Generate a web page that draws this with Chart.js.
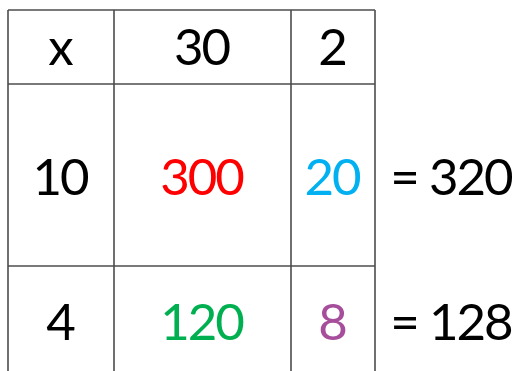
<!DOCTYPE html>
<html>
<head>
<meta charset="utf-8">
<script src="https://cdn.jsdelivr.net/npm/chart.js"></script>
<style>
html,body{margin:0;padding:0;background:#fff;}
#wrap{width:515px;height:371px;position:relative;}
</style>
</head>
<body>
<div id="wrap"><canvas id="c" width="515" height="371"></canvas></div>
<script>
// ---- data ----
const operatorLabel = 'x';
const colFactors = [30, 2];
const rowFactors = [10, 4];
const products = [[300, 20], [120, 8]];
const rowTotals = [320, 128];
const productColors = [['#FF0000', '#00B0F0'], ['#00B050', '#A64D9C']];

// ---- layout (grid geometry, not data) ----
const colEdges = [8, 114, 291, 375];
const rowEdges = [10, 84, 266, 371];
const baselines = [65, 195, 340];
const totalX = 452;

const lineColor = '#4d4d4d';
const datasets = [];
colEdges.forEach(x => datasets.push({data: [{x: x, y: rowEdges[0]}, {x: x, y: rowEdges[3]}]}));
rowEdges.slice(0, 3).forEach(y => datasets.push({data: [{x: colEdges[0], y: y}, {x: colEdges[3], y: y}]}));
datasets.forEach(d => Object.assign(d, {showLine: true, borderColor: lineColor, borderWidth: 1.6, pointRadius: 0, fill: false, tension: 0}));

const textPlugin = {
  id: 'gridText',
  afterDatasetsDraw(chart) {
    const ctx = chart.ctx, xs = chart.scales.x, ys = chart.scales.y;
    ctx.save();
    ctx.font = '51px Lato';
    if ('letterSpacing' in ctx) ctx.letterSpacing = '-2px';
    ctx.textAlign = 'center';
    ctx.textBaseline = 'alphabetic';
    const cx = i => xs.getPixelForValue((colEdges[i] + colEdges[i + 1]) / 2);
    const draw = (t, x, yv, col) => { ctx.fillStyle = col; ctx.fillText(String(t), x - 1, ys.getPixelForValue(yv)); };
    draw(operatorLabel, cx(0), baselines[0], '#000');
    colFactors.forEach((v, i) => draw(v, cx(i + 1), baselines[0], '#000'));
    rowFactors.forEach((v, r) => {
      draw(v, cx(0), baselines[r + 1], '#000');
      products[r].forEach((p, c) => draw(p, cx(c + 1), baselines[r + 1], productColors[r][c]));
      draw('= ' + rowTotals[r], xs.getPixelForValue(totalX), baselines[r + 1], '#000');
    });
    ctx.restore();
  }
};

new Chart(document.getElementById('c'), {
  type: 'scatter',
  data: {datasets},
  options: {
    responsive: false,
    animation: false,
    layout: {padding: 0},
    plugins: {legend: {display: false}, tooltip: {enabled: false}},
    scales: {
      x: {type: 'linear', min: 0, max: 515, display: false},
      y: {type: 'linear', min: 0, max: 371, reverse: true, display: false}
    }
  },
  plugins: [textPlugin]
});
</script>
</body>
</html>
